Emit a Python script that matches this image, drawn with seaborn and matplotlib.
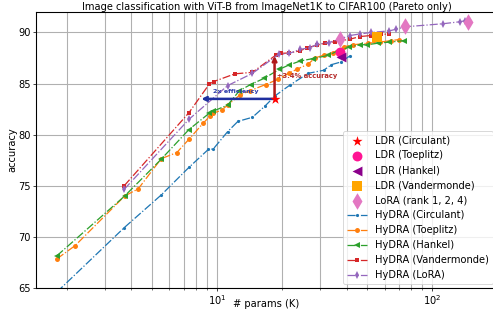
import matplotlib
matplotlib.use('Agg')
import matplotlib.pyplot as plt
import seaborn as sns

# HyDRA curves (params in K, accuracy in %)
circ_x = [1.8, 3.7, 5.5, 7.4, 9.1, 9.6, 11.2, 12.5, 14.6, 16.7, 18.6, 21.8, 26.5, 31.3, 34.0, 37.5, 41.4]
circ_y = [64.6, 70.9, 74.1, 76.8, 78.55, 78.6, 80.3, 81.3, 81.7, 82.8, 83.8, 84.85, 86.0, 86.3, 86.85, 87.1, 87.7]

toep_x = [1.8, 2.19, 3.72, 4.3, 5.5, 6.5, 7.4, 8.6, 9.3, 9.6, 10.5, 11.2, 12.8, 14.2, 16.8, 19.1,
          21.5, 23.5, 26.5, 28.5, 31.5, 34.5, 39.0, 43.0, 50.5, 57.0, 64.0, 70.0]
toep_y = [67.85, 69.15, 74.0, 74.7, 77.65, 78.25, 79.55, 81.1, 81.85, 82.1, 82.4, 82.9, 83.9, 84.3, 84.9, 85.4,
          86.0, 86.4, 86.9, 87.5, 87.8, 88.0, 88.6, 88.8, 88.95, 89.05, 89.2, 89.3]

hank_x = [1.8, 3.72, 5.5, 7.4, 9.2, 9.6, 11.2, 12.7, 14.3, 16.5, 19.5, 21.5, 24.3, 28.0, 32.8, 36.5,
          41.0, 46.0, 50.0, 56.0, 63.0, 74.0]
hank_y = [68.15, 74.0, 77.6, 80.5, 82.1, 82.3, 82.9, 84.3, 84.9, 85.5, 86.4, 86.8, 87.2, 87.45, 87.75, 88.2,
          88.55, 88.8, 88.8, 88.95, 89.05, 89.2]

vand_x = [3.7, 7.4, 9.2, 9.65, 12.1, 14.6, 18.8, 19.9, 21.7, 24.3, 26.2, 29.1, 31.7, 35.3, 41.6, 46.2, 52.0, 57.8, 62.8]
vand_y = [75.0, 82.15, 84.95, 85.2, 85.95, 86.1, 87.8, 87.95, 88.0, 88.2, 88.5, 88.75, 88.95, 89.1, 89.35, 89.6,
          89.7, 89.8, 89.85]

lora_x = [3.7, 7.4, 11.2, 14.6, 19.3, 21.7, 24.3, 27.1, 29.1, 33.0, 37.1, 41.5, 46.0, 52.0, 63.0, 67.5, 74.7,
          112.0, 135.0, 142.0, 147.0]
lora_y = [74.65, 81.5, 84.8, 86.0, 87.85, 87.95, 88.35, 88.5, 88.85, 89.0, 89.35, 89.7, 89.85, 90.0, 90.15, 90.3,
          90.55, 90.85, 91.05, 91.15, 91.1]

# single LDR results
ldr_circ = (18.5, 83.5)
ldr_toep = (37.1, 88.1)
ldr_hank = (37.5, 87.6)
ldr_vand = (55.6, 89.55)
lora_rank_x = [37.1, 74.7, 147.0]
lora_rank_y = [89.4, 90.6, 91.05]

fig = plt.figure(figsize=(493 / 65, 315 / 65), dpi=65)
ax = fig.add_axes([36 / 493, 27 / 315, 461 / 493, 276 / 315])

# LDR points first so they come first in the legend
sns.scatterplot(x=[ldr_circ[0]], y=[ldr_circ[1]], marker='*', s=140, color='red', linewidth=0,
                label='LDR (Circulant)', zorder=6, ax=ax)
sns.scatterplot(x=[ldr_toep[0]], y=[ldr_toep[1]], marker='o', s=120, color='#ff1493', linewidth=0,
                label='LDR (Toeplitz)', zorder=5, ax=ax)
sns.scatterplot(x=[ldr_hank[0]], y=[ldr_hank[1]], marker='<', s=120, color='#8b008b', linewidth=0,
                label='LDR (Hankel)', zorder=5, ax=ax)
sns.scatterplot(x=[ldr_vand[0]], y=[ldr_vand[1]], marker='s', s=110, color='#ffa500', linewidth=0,
                label='LDR (Vandermonde)', zorder=5, ax=ax)
sns.scatterplot(x=lora_rank_x, y=lora_rank_y, marker='d', s=170, color='#e377c2', linewidth=0,
                label='LoRA (rank 1, 2, 4)', zorder=5, ax=ax)

series = [
    (circ_x, circ_y, '#1f77b4', '.', 7, 'HyDRA (Circulant)'),
    (toep_x, toep_y, '#ff7f0e', 'o', 5.5, 'HyDRA (Toeplitz)'),
    (hank_x, hank_y, '#2ca02c', '<', 6, 'HyDRA (Hankel)'),
    (vand_x, vand_y, '#d62728', 's', 5.5, 'HyDRA (Vandermonde)'),
    (lora_x, lora_y, '#9467bd', 'd', 6, 'HyDRA (LoRA)'),
]
for xs, ys, col, mk, ms, lab in series:
    sns.lineplot(x=xs, y=ys, ax=ax, color=col, marker=mk, markersize=ms, markeredgewidth=0,
                 linestyle='-.', linewidth=1.4, estimator=None, sort=False, label=lab)

# arrows
ax.annotate('', xy=(8.45, 83.5), xytext=ldr_circ,
            arrowprops=dict(arrowstyle='->', color='#1f2f9f', lw=2.8, shrinkA=0, shrinkB=0), zorder=4)
ax.annotate('', xy=(18.5, 87.7), xytext=ldr_circ,
            arrowprops=dict(arrowstyle='->', color='#b01818', lw=2.8, shrinkA=0, shrinkB=0), zorder=4)
ax.text(12.2, 84.2, '2x efficiency', color='#2a3aaa', fontsize=7, fontweight='bold',
        ha='center', va='center')
ax.text(19.0, 85.7, '+3.4% accuracy', color='#b52a2a', fontsize=7.5, fontweight='bold',
        ha='left', va='center')

ax.set_xscale('log')
ax.set_xlim(1.44, 200)
ax.set_ylim(65, 92)
ax.set_yticks([65, 70, 75, 80, 85, 90])
ax.grid(True, which='major', color='#b0b0b0', linewidth=1.2)
ax.grid(True, which='minor', axis='x', color='#b0b0b0', linewidth=1.2)
ax.set_axisbelow(True)

ax.set_title('Image classification with ViT-B from ImageNet1K to CIFAR100 (Pareto only)', fontsize=11, pad=2)
ax.set_xlabel('# params (K)', fontsize=11, labelpad=-9)
ax.set_ylabel('accuracy', fontsize=11, labelpad=1)
ax.tick_params(labelsize=11, pad=2)
for sp in ax.spines.values():
    sp.set_linewidth(1.2)
ax.legend(loc='lower right', fontsize=11, borderaxespad=0.4)

fig.savefig('out.png', dpi=65)
